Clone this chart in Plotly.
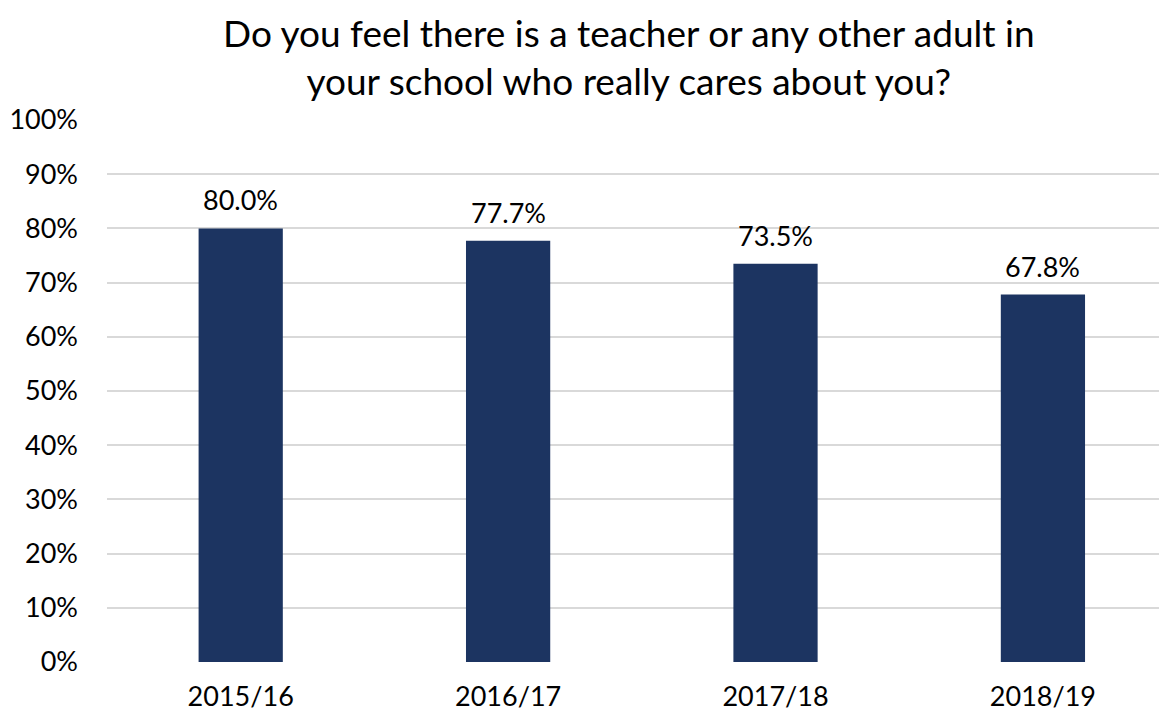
import plotly.graph_objects as go

categories = ["2015/16", "2016/17", "2017/18", "2018/19"]
values = [80.0, 77.7, 73.5, 67.8]
y_ticks = [0, 10, 20, 30, 40, 50, 60, 70, 80, 90, 100]
y_tick_labels = [f"{v}%" for v in y_ticks]

FONT = "Lato, Open Sans, sans-serif"

fig = go.Figure(go.Bar(
    x=categories, y=values,
    marker=dict(color="#1c3461", line=dict(width=0)),
    width=0.315,
    cliponaxis=False,
))

# data labels
for c, v in zip(categories, values):
    fig.add_annotation(
        x=c, y=v, xref="x", yref="y",
        text=f"{v:.1f}%", showarrow=False,
        yanchor="bottom", yshift=10,
        font=dict(size=27, color="black", family=FONT),
    )

# title
fig.add_annotation(
    x=0.4925, y=1.03, xref="paper", yref="paper",
    xanchor="center", yanchor="bottom",
    text="Do you feel there is a teacher or any other adult in<br>your school who really cares about you?",
    showarrow=False, borderpad=0,
    font=dict(size=37, family=FONT, color="black"),
)

fig.update_layout(
    width=1159, height=710,
    margin=dict(l=99, r=0, t=112, b=56, autoexpand=False),
    paper_bgcolor="white", plot_bgcolor="white",
    showlegend=False,
    font=dict(family=FONT, color="black", size=27),
    xaxis=dict(
        range=[-0.5, 3.464],
        showgrid=False, zeroline=False, showline=False,
        ticks="", tickfont=dict(size=27),
        ticklabelstandoff=16,
        automargin=False,
    ),
    yaxis=dict(
        range=[0, 100],
        tickvals=y_ticks, ticktext=y_tick_labels,
        showgrid=True, gridcolor="#d9d9d9", gridwidth=1.5,
        zeroline=False, showline=False, ticks="",
        tickfont=dict(size=27),
        ticklabelstandoff=28,
        automargin=False,
    ),
)

fig.write_html("out.html")
